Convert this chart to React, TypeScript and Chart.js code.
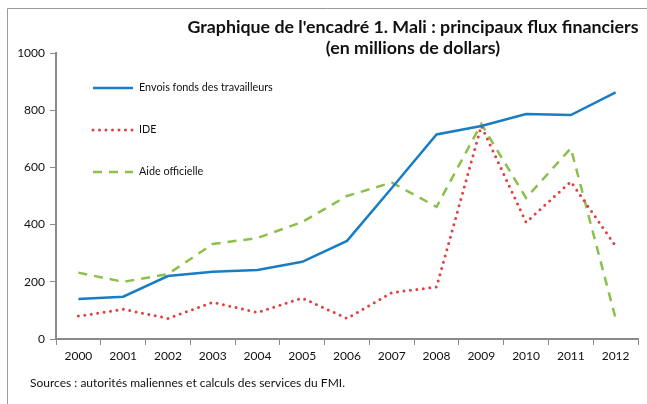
import React, { useEffect, useRef } from 'react';
import { Chart, registerables } from 'chart.js';

Chart.register(...registerables);

const years = ['2000', '2001', '2002', '2003', '2004', '2005', '2006', '2007', '2008', '2009', '2010', '2011', '2012'];
const envoisFonds = [140, 148, 220, 235, 241, 270, 343, 528, 715, 745, 787, 783, 862];
const ide = [80, 104, 72, 128, 93, 143, 72, 162, 182, 745, 408, 550, 325];
const aideOfficielle = [232, 200, 227, 332, 353, 409, 500, 547, 462, 752, 493, 667, 72];
const seriesLabels = ['Envois fonds des travailleurs', 'IDE', 'Aide officielle'];
const titleLines = ["Graphique de l'encadré 1. Mali : principaux flux financiers", '(en millions de dollars)'];
const sourceText = 'Sources : autorités maliennes et calculs des services du FMI.';
const yMin = 0;
const yMax = 1000;
const yStep = 200;

const FONT = 'Lato, "Open Sans", sans-serif';

const decorPlugin = {
  id: 'decor',
  beforeDraw(chart: any) {
    const ctx = chart.ctx;
    ctx.save();
    ctx.fillStyle = '#ffffff';
    ctx.fillRect(0, 0, chart.width, chart.height);
    // frame
    ctx.strokeStyle = '#9a9a9a';
    ctx.lineWidth = 1;
    ctx.beginPath();
    ctx.moveTo(7.5, chart.height);
    ctx.lineTo(7.5, 8.5);
    ctx.lineTo(chart.width, 8.5);
    ctx.stroke();
    ctx.restore();
  },
  afterDraw(chart: any) {
    const ctx = chart.ctx;
    ctx.save();
    // title
    ctx.fillStyle = '#111111';
    ctx.font = `bold 17.8px ${FONT}`;
    ctx.textAlign = 'center';
    ctx.textBaseline = 'middle';
    ctx.fillText(titleLines[0], 413, 27);
    ctx.fillText(titleLines[1], 413, 48);
    // legend
    const ys = [88, 130, 172];
    chart.data.datasets.forEach((ds: any, i: number) => {
      ctx.save();
      ctx.strokeStyle = ds.borderColor;
      ctx.lineWidth = ds.borderWidth;
      ctx.lineCap = ds.borderCapStyle || 'butt';
      ctx.setLineDash(ds.borderDash || []);
      ctx.beginPath();
      ctx.moveTo(93, ys[i]);
      ctx.lineTo(133, ys[i]);
      ctx.stroke();
      ctx.restore();
      ctx.fillStyle = '#111111';
      ctx.font = `10.8px ${FONT}`;
      ctx.textAlign = 'left';
      ctx.textBaseline = 'middle';
      ctx.fillText(ds.label, 139, ys[i]);
    });
    // source
    ctx.font = `12px ${FONT}`;
    ctx.textAlign = 'left';
    ctx.textBaseline = 'middle';
    ctx.fillStyle = '#111111';
    ctx.fillText(sourceText, 30, 383);
    ctx.restore();
  },
};

export default function App() {
  const ref = useRef<HTMLCanvasElement | null>(null);
  useEffect(() => {
    if (!ref.current) return;
    const chart = new Chart(ref.current, {
      type: 'line',
      data: {
        labels: years,
        datasets: [
          {
            label: seriesLabels[0],
            data: envoisFonds,
            borderColor: '#1a7dc4',
            borderWidth: 2.5,
            pointRadius: 0,
            tension: 0,
          },
          {
            label: seriesLabels[1],
            data: ide,
            borderColor: '#e04040',
            borderWidth: 3,
            borderDash: [0, 6.5],
            borderCapStyle: 'round',
            pointRadius: 0,
            tension: 0,
          },
          {
            label: seriesLabels[2],
            data: aideOfficielle,
            borderColor: '#8cc04b',
            borderWidth: 2.5,
            borderDash: [9, 7],
            pointRadius: 0,
            tension: 0,
          },
        ],
      },
      options: {
        responsive: false,
        animation: false,
        layout: { padding: { top: 53, right: 9, left: 0, bottom: 0 } },
        plugins: {
          legend: { display: false },
          title: { display: false },
          tooltip: { enabled: false },
        },
        scales: {
          x: {
            offset: true,
            grid: {
              display: true,
              offset: true,
              drawOnChartArea: false,
              drawTicks: true,
              tickLength: 6,
              color: '#8a8a8a',
              lineWidth: 1,
            },
            border: { display: true, color: '#8a8a8a', width: 2 },
            ticks: {
              color: '#111111',
              font: { family: FONT, size: 12 },
              padding: 4,
              maxRotation: 0,
              autoSkip: false,
            },
            afterFit: (s: any) => {
              s.height = 65;
            },
          },
          y: {
            min: yMin,
            max: yMax,
            grid: {
              display: true,
              drawOnChartArea: false,
              drawTicks: true,
              tickLength: 6,
              color: '#8a8a8a',
              lineWidth: 1,
            },
            border: { display: true, color: '#8a8a8a', width: 2 },
            ticks: {
              stepSize: yStep,
              color: '#111111',
              font: { family: FONT, size: 12 },
              padding: 5,
              callback: (v: any) => String(v),
            },
            afterFit: (s: any) => {
              s.width = 56;
            },
          },
        },
      },
      plugins: [decorPlugin],
    } as any);
    return () => chart.destroy();
  }, []);
  return (
    <div style={{ position: 'fixed', left: 0, top: 0, width: 647, height: 404 }}>
      <canvas ref={ref} width={647} height={404} style={{ width: 647, height: 404 }} />
    </div>
  );
}
